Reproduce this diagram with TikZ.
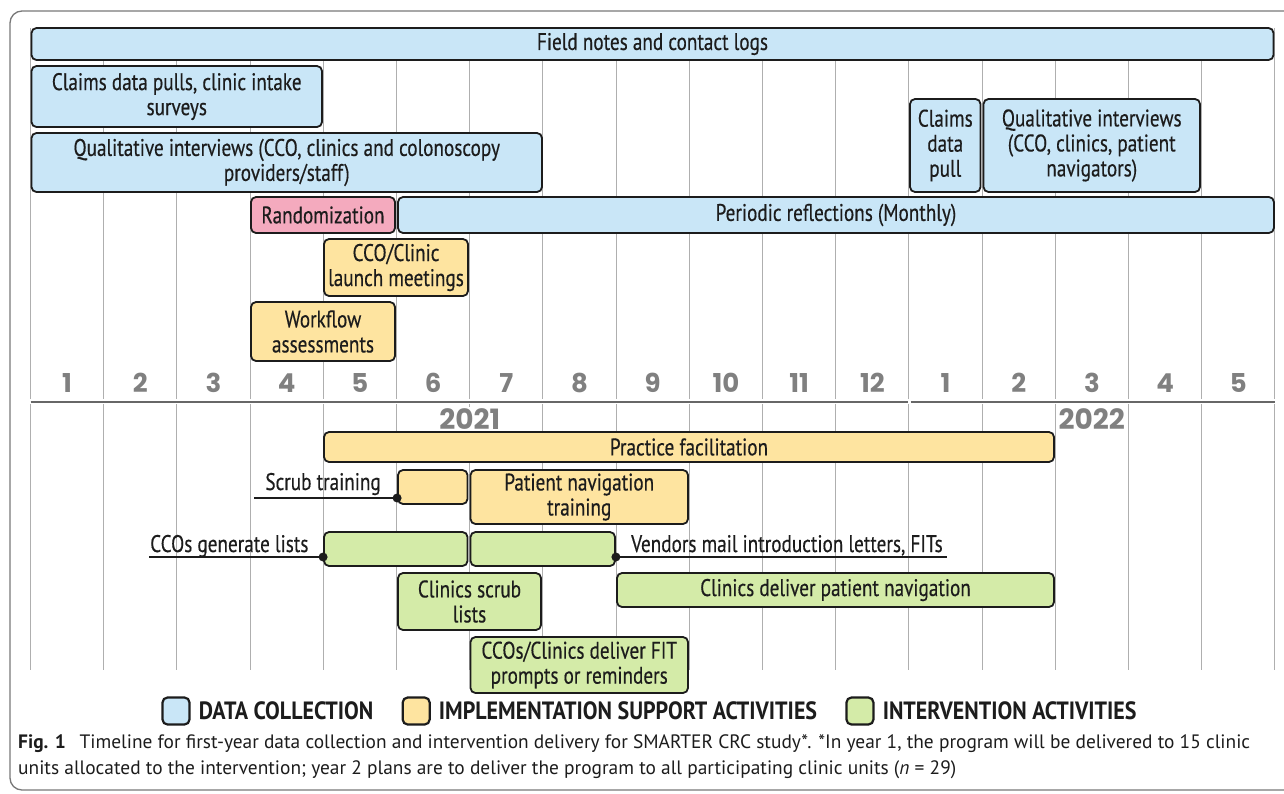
\documentclass[tikz,border=0pt]{standalone}
\usepackage{fontspec}
\setmainfont{PT Sans}
\newfontfamily\barfont{PT Sans}[FakeStretch=0.8, FakeBold=0.4]
\newfontfamily\keyfont{PT Sans}[FakeStretch=0.88]
\newfontfamily\numfont{Poppins}
\usepackage{tikz}
\usetikzlibrary{positioning}
\definecolor{dcblue}{RGB}{201,230,247}
\definecolor{supyellow}{RGB}{254,228,160}
\definecolor{intgreen}{RGB}{212,235,168}
\definecolor{randpink}{RGB}{244,170,190}
\definecolor{boxline}{RGB}{28,28,28}
\definecolor{gridgray}{RGB}{175,175,175}
\definecolor{numgray}{RGB}{128,128,128}
\definecolor{framegray}{RGB}{120,120,120}

\tikzset{
  bar/.style={draw=boxline, line width=1.8pt, rounded corners=5pt, align=center,
    inner sep=0pt, text=boxline, font=\barfont\fontsize{24}{25}\selectfont},
  dcbar/.style={bar, fill=dcblue},
  supbar/.style={bar, fill=supyellow},
  intbar/.style={bar, fill=intgreen},
  randbar/.style={bar, fill=randpink},
  lead/.style={inner sep=0pt, text=boxline, font=\barfont\fontsize{24}{25}\selectfont},
  month/.style={text=numgray, font=\numfont\bfseries\fontsize{26}{26}\selectfont},
  year/.style={month, fill=white, inner sep=2pt, font=\numfont\bfseries\fontsize{28}{28}\selectfont},
  keybox/.style={draw=boxline, line width=2.2pt, rounded corners=5pt, minimum size=27pt, inner sep=0pt},
  keytext/.style={inner sep=0pt, text=boxline, font=\keyfont\bfseries\fontsize{25}{25}\selectfont}
}

\begin{document}
\begin{tikzpicture}[x=1pt, y=-1pt]
  \clip (0,0) rectangle (1284,793);
  \draw[framegray, line width=1.3pt, rounded corners=12pt] (10,11) rectangle (1310,790);

  % month grid, upper and lower half
  \foreach \k in {0,...,17} {
    \draw[gridgray, line width=1.1pt] ({30.5+73.2*\k},28) -- ({30.5+73.2*\k},399);
    \draw[gridgray, line width=1.1pt] ({30.5+73.2*\k},404) -- ({30.5+73.2*\k},670);
  }
  \draw[numgray!80!black, line width=1.6pt] (30.5,402) -- (907.5,402);
  \draw[numgray!80!black, line width=1.6pt] (910.5,402) -- (1274.9,402);
  \foreach \m [count=\i from 0] in {1,2,3,4,5,6,7,8,9,10,11,12,1,2,3,4,5}
    \node[month] (m\i) at ({30.5+73.2*(\i+0.5)},383) {\m};
  \node[year] (y2021) at (469.7,419) {2021};
  \node[year] (y2022) at (1091.7,419) {2022};

  % data collection
  \node[dcbar, minimum width=1242pt, minimum height=32pt] (field) at (652.5,44) {Field notes and contact logs};
  \node[dcbar, minimum width=290.5pt, minimum height=61pt] (claims) at (176.75,96.5) {Claims data pulls, clinic intake\\surveys};
  \node[dcbar, minimum width=510.5pt, minimum height=59pt] (qualA) at (286.75,162.5) {Qualitative interviews (CCO, clinics and colonoscopy\\providers/staff)};
  \node[dcbar, minimum width=70.5pt, minimum height=93pt] (claimsB) at (945.25,145.5) {Claims\\data\\pull};
  \node[dcbar, minimum width=216.5pt, minimum height=93pt] (qualB) at (1091.75,145.5) {Qualitative interviews\\(CCO, clinics, patient\\navigators)};
  \node[randbar, minimum width=144pt, minimum height=36pt] (rand) at (323,215) {Randomization};
  \node[dcbar, minimum width=875.9pt, minimum height=36pt] (reflect) at (835.95,215) {Periodic reflections (Monthly)};

  % implementation support
  \node[supbar, minimum width=144pt, minimum height=57pt] (launch) at (396,267.5) {CCO/Clinic\\launch meetings};
  \node[supbar, minimum width=144pt, minimum height=59pt] (workflow) at (323,331.5) {Workflow\\assessments};
  \node[supbar, minimum width=730pt, minimum height=30pt] (practice) at (689,447) {Practice facilitation};
  \node[supbar, minimum width=69.5pt, minimum height=34pt] (scrub) at (432.75,487) {};
  \node[supbar, minimum width=217.5pt, minimum height=54pt] (navtrain) at (579.25,497) {Patient navigation\\training};

  % intervention
  \node[intbar, minimum width=143.5pt, minimum height=34pt] (genA) at (395.75,549) {};
  \node[intbar, minimum width=144.5pt, minimum height=34pt] (genB) at (542.75,549) {};
  \node[intbar, minimum width=143pt, minimum height=57pt] (scrublist) at (469.5,601.5) {Clinics scrub\\lists};
  \node[intbar, minimum width=437pt, minimum height=34pt] (delivnav) at (835.5,590) {Clinics deliver patient navigation};
  \node[intbar, minimum width=217.5pt, minimum height=56pt] (fit) at (579.25,665) {CCOs/Clinics deliver FIT\\prompts or reminders};

  % labels with leader lines
  \node[lead, anchor=base east] (scrubtxt) at (381,490) {Scrub training};
  \coordinate (scrubend) at (254,498);
  \draw[boxline, line width=1.6pt] (scrubend) -- (scrub.west |- scrubend);
  \fill[boxline] (scrub.west |- scrubend) circle (4.5pt);
  \node[lead, anchor=base west] (gentxt) at (150,552) {CCOs generate lists};
  \coordinate (genend) at (149,557);
  \draw[boxline, line width=1.6pt] (genend) -- (genA.west |- genend);
  \fill[boxline] (genA.west |- genend) circle (4.5pt);
  \node[lead, anchor=base west] (mailtxt) at (631,552) {Vendors mail introduction letters, FITs};
  \coordinate (mailend) at (947,557);
  \draw[boxline, line width=1.6pt] (genB.east |- mailend) -- (mailend);
  \fill[boxline] (genB.east |- mailend) circle (4.5pt);

  % key
  \node[keybox, fill=dcblue] (keydc) at (176,711) {};
  \node[keytext, right=8pt of keydc] (keydctxt) {DATA COLLECTION};
  \node[keybox, fill=supyellow, right=28pt of keydctxt] (keysup) {};
  \node[keytext, right=8pt of keysup] (keysuptxt) {IMPLEMENTATION SUPPORT ACTIVITIES};
  \node[keybox, fill=intgreen, right=28pt of keysuptxt] (keyint) {};
  \node[keytext, right=8pt of keyint] (keyinttxt) {INTERVENTION ACTIVITIES};

  % caption (base anchor sits on the last line)
  \node[anchor=base west, align=left, inner sep=0pt, text=boxline, font=\fontsize{19.4}{26}\selectfont] (caption) at (18,774)
    {\textbf{Fig. 1}\hspace{0.7em}Timeline for first-year data collection and intervention delivery for SMARTER CRC study*. *In year 1, the program will be delivered to 15 clinic\\
     units allocated to the intervention; year 2 plans are to deliver the program to all participating clinic units (\textit{n} = 29)};
\end{tikzpicture}
\end{document}
